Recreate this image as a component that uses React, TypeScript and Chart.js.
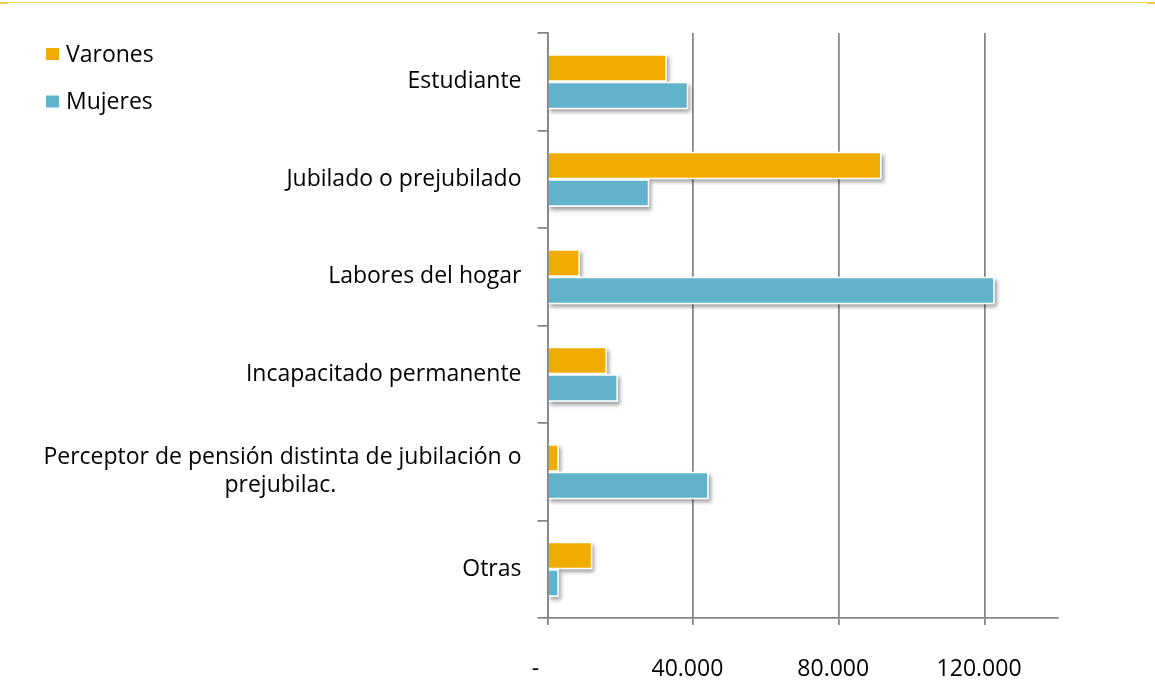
import React, { useEffect, useRef } from 'react';
import { Chart, registerables } from 'chart.js';

Chart.register(...registerables);

// ---- Data ----
const categories: (string | string[])[] = [
  'Estudiante',
  'Jubilado o prejubilado',
  'Labores del hogar',
  'Incapacitado permanente',
  ['Perceptor de pensión distinta de jubilación o', 'prejubilac.'],
  'Otras',
];
const seriesNames = ['Varones', 'Mujeres'];
const varones = [32700, 91600, 8900, 16300, 3100, 12300];
const mujeres = [38600, 27900, 122600, 19300, 44200, 3100];
const xTickValues = [0, 40000, 80000, 120000];
const xMin = 0;
const xMax = 140000;

// ---- Styles ----
const FONT = '"Open Sans", sans-serif';
const FONT_SIZE = 23;
const COLORS = ['#F0AC00', '#61B3CB'];
const AXIS_GRAY = '#858585';

function fmt(v: number): string {
  if (v === 0) return '-    ';
  return String(v).replace(/\B(?=(\d{3})+(?!\d))/g, '.') + '  ';
}

function centerLines(label: string | string[]): string | string[] {
  if (!Array.isArray(label)) return label;
  const c = document.createElement('canvas').getContext('2d')!;
  c.font = `${FONT_SIZE}px ${FONT}`;
  const widths = label.map((l) => c.measureText(l).width);
  const max = Math.max(...widths);
  const sp = c.measureText(' ').width;
  return label.map((l, i) => l + ' '.repeat(Math.max(0, Math.round((max - widths[i]) / 2 / sp))));
}

const framePlugin = {
  id: 'frameLine',
  beforeDraw(chart: any) {
    const ctx = chart.ctx;
    ctx.save();
    ctx.fillStyle = '#FFD75E';
    ctx.fillRect(0, 2, chart.width, 1);
    ctx.fillStyle = '#F7C94A';
    ctx.fillRect(0, 2, 8, 2);
    ctx.fillRect(chart.width - 8, 2, 8, 2);
    ctx.restore();
  },
};

const shadowPlugin = {
  id: 'barShadow',
  beforeDatasetsDraw(chart: any) {
    const ctx = chart.ctx;
    ctx.save();
    ctx.shadowColor = 'rgba(0,0,0,0.38)';
    ctx.shadowBlur = 4;
    ctx.shadowOffsetX = 2;
    ctx.shadowOffsetY = 3;
    ctx.fillStyle = '#ffffff';
    chart.data.datasets.forEach((_: any, di: number) => {
      const meta = chart.getDatasetMeta(di);
      meta.data.forEach((el: any) => {
        const { x, y, base, height } = el.getProps(['x', 'y', 'base', 'height'], true);
        ctx.fillRect(Math.min(base, x), y - height / 2, Math.abs(x - base), height);
      });
    });
    ctx.restore();
  },
};

const legendPlugin = {
  id: 'customLegend',
  afterDraw(chart: any) {
    const ctx = chart.ctx;
    ctx.save();
    ctx.font = `${FONT_SIZE}px ${FONT}`;
    ctx.textBaseline = 'alphabetic';
    ctx.textAlign = 'left';
    chart.data.datasets.forEach((ds: any, i: number) => {
      const top = 48 + i * 47.5;
      ctx.fillStyle = ds.backgroundColor;
      ctx.fillRect(46, top, 13, 12);
      ctx.fillStyle = '#000';
      ctx.fillText(ds.label, 66, top + 13.7);
    });
    ctx.restore();
  },
};

export default function App() {
  const ref = useRef<HTMLCanvasElement | null>(null);

  useEffect(() => {
    if (!ref.current) return;
    const labels = categories.map(centerLines);
    const chart = new Chart(ref.current, {
      type: 'bar',
      data: {
        labels,
        datasets: [
          {
            label: seriesNames[0],
            data: varones,
            backgroundColor: COLORS[0],
            borderColor: '#ffffff',
            borderWidth: 1.5,
            borderSkipped: 'start',
          },
          {
            label: seriesNames[1],
            data: mujeres,
            backgroundColor: COLORS[1],
            borderColor: '#ffffff',
            borderWidth: 1.5,
            borderSkipped: 'start',
          },
        ],
      },
      options: {
        indexAxis: 'y',
        responsive: true,
        maintainAspectRatio: false,
        animation: false,
        datasets: { bar: { categoryPercentage: 0.565, barPercentage: 1 } },
        layout: { padding: { left: 0, top: 33, right: 97, bottom: 0 } },
        plugins: {
          legend: { display: false },
          tooltip: { enabled: false },
          title: { display: false },
        },
        scales: {
          x: {
            type: 'linear',
            position: 'bottom',
            min: xMin,
            max: xMax,
            afterBuildTicks: (scale: any) => {
              scale.ticks = xTickValues.map((v) => ({ value: v }));
            },
            afterFit: (scale: any) => {
              scale.height = 82;
            },
            grid: {
              color: AXIS_GRAY,
              lineWidth: 1.75,
              tickLength: 7,
              drawTicks: true,
              drawOnChartArea: true,
            },
            border: { display: true, color: AXIS_GRAY, width: 1.75 },
            ticks: {
              callback: (v: any) => fmt(Number(v)),
              color: '#000',
              font: { family: FONT, size: FONT_SIZE },
              padding: 31,
              maxRotation: 0,
              autoSkip: false,
            },
          },
          y: {
            type: 'category',
            position: 'left',
            afterFit: (scale: any) => {
              scale.width = 547.5;
            },
            grid: {
              display: true,
              drawOnChartArea: false,
              drawTicks: true,
              tickLength: 10,
              color: AXIS_GRAY,
              lineWidth: 1.75,
              offset: true,
            },
            border: { display: true, color: AXIS_GRAY, width: 1.75, z: 1 },
            ticks: {
              color: '#000',
              font: { family: FONT, size: FONT_SIZE, lineHeight: 1.2 },
              padding: 16,
              autoSkip: false,
            },
          },
        },
      },
      plugins: [framePlugin, shadowPlugin, legendPlugin],
    });
    return () => chart.destroy();
  }, []);

  return (
    <div style={{ position: 'fixed', left: 0, top: 0, width: 1155, height: 700, background: '#fff' }}>
      <canvas ref={ref} />
    </div>
  );
}
